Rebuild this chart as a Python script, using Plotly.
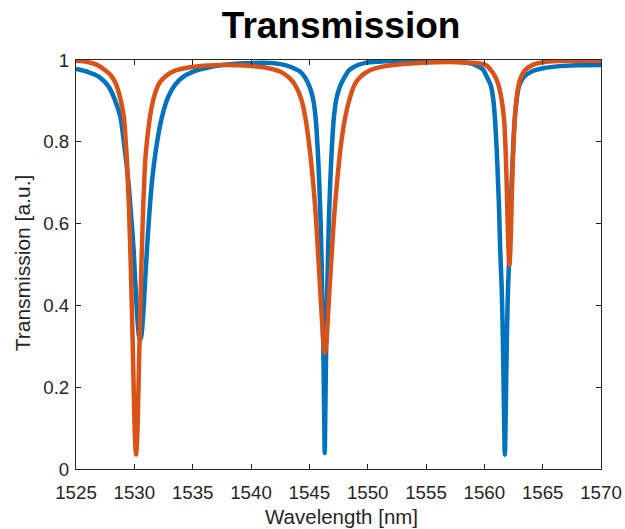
import plotly.graph_objects as go

# Blue curve (wavelength nm, transmission)
blue_wl = [1525.0, 1526.0, 1527.0, 1527.8, 1528.3, 1528.8, 1529.1, 1529.5, 1529.75, 1529.94,
           1530.05, 1530.2, 1530.3, 1530.4, 1530.5, 1530.6, 1530.7, 1530.8, 1530.95, 1531.08,
           1531.25, 1531.5, 1531.9, 1532.37, 1532.9, 1533.5, 1534.1, 1535.0, 1536.5, 1538.0,
           1539.5, 1541.0, 1542.0, 1543.0, 1543.5, 1544.2, 1544.62, 1545.02, 1545.32, 1545.53,
           1545.72, 1545.85, 1545.95, 1546.03, 1546.1, 1546.16, 1546.22, 1546.27, 1546.32, 1546.37,
           1546.42, 1546.48, 1546.54, 1546.61, 1546.69, 1546.79, 1546.92, 1547.11, 1547.32, 1547.62,
           1548.02, 1548.42, 1549.1, 1549.8, 1551.0, 1553.0, 1555.0, 1557.0, 1558.5, 1559.3,
           1559.9, 1560.16, 1560.56, 1560.76, 1560.9, 1561.06, 1561.18, 1561.28, 1561.36, 1561.48,
           1561.56, 1561.64, 1561.70, 1561.76, 1561.82, 1561.88, 1561.96, 1562.04, 1562.16, 1562.24,
           1562.34, 1562.46, 1562.62, 1562.76, 1562.96, 1563.36, 1564.06, 1565.06, 1566.5, 1568.0,
           1570.0]
blue_t = [0.978, 0.971, 0.958, 0.935, 0.905, 0.861, 0.80, 0.699, 0.61, 0.536,
          0.473, 0.396, 0.354, 0.325, 0.316, 0.325, 0.354, 0.396, 0.473, 0.536,
          0.61, 0.699, 0.79, 0.861, 0.91, 0.94, 0.957, 0.971, 0.983, 0.989,
          0.992, 0.993, 0.992, 0.987, 0.982, 0.972, 0.958, 0.935, 0.905, 0.861,
          0.78, 0.699, 0.62, 0.536, 0.44, 0.36, 0.25, 0.14, 0.039, 0.14,
          0.25, 0.36, 0.44, 0.536, 0.62, 0.699, 0.78, 0.861, 0.905, 0.935,
          0.958, 0.975, 0.987, 0.993, 0.996, 0.998, 0.998, 0.997, 0.993, 0.987,
          0.976, 0.962, 0.937, 0.905, 0.861, 0.78, 0.699, 0.62, 0.536, 0.45,
          0.36, 0.23, 0.11, 0.035, 0.11, 0.23, 0.36, 0.45, 0.536, 0.62,
          0.699, 0.78, 0.861, 0.90, 0.935, 0.958, 0.972, 0.980, 0.985, 0.987,
          0.988]

# Orange curve (wavelength nm, transmission)
red_wl = [1525.0, 1526.0, 1526.8, 1527.5, 1528.0, 1528.4, 1528.85, 1529.1, 1529.35, 1529.55,
          1529.7, 1529.85, 1529.95, 1530.05, 1530.15, 1530.25, 1530.35, 1530.45, 1530.6, 1530.75,
          1530.95, 1531.2, 1531.45, 1531.85, 1532.2, 1532.8, 1533.5, 1534.5, 1536.0, 1537.5,
          1539.0, 1540.5, 1541.5, 1542.5, 1543.3, 1543.8, 1544.3, 1544.65, 1545.0, 1545.33,
          1545.55, 1545.73, 1545.93, 1546.08, 1546.2, 1546.33, 1546.46, 1546.58, 1546.73, 1546.94,
          1547.13, 1547.37, 1547.7, 1548.08, 1548.5, 1548.94, 1549.5, 1550.2, 1551.5, 1553.0,
          1555.0, 1557.0, 1558.5, 1559.5, 1560.2, 1560.7, 1561.0, 1561.25, 1561.5, 1561.7,
          1561.85, 1561.95, 1562.05, 1562.15, 1562.25, 1562.35, 1562.45, 1562.6, 1562.8, 1563.05,
          1563.45, 1564.15, 1565.2, 1567.0, 1570.0]
red_t = [0.998, 0.995, 0.988, 0.975, 0.962, 0.943, 0.90, 0.861, 0.76, 0.63,
         0.49, 0.32, 0.19, 0.08, 0.035, 0.08, 0.19, 0.32, 0.49, 0.63,
         0.76, 0.83, 0.88, 0.925, 0.946, 0.963, 0.974, 0.981, 0.986, 0.988,
         0.987, 0.984, 0.980, 0.972, 0.956, 0.938, 0.905, 0.861, 0.79, 0.699,
         0.62, 0.536, 0.44, 0.365, 0.31, 0.283, 0.31, 0.365, 0.44, 0.536,
         0.62, 0.699, 0.79, 0.861, 0.91, 0.943, 0.962, 0.975, 0.985, 0.990,
         0.994, 0.995, 0.994, 0.992, 0.986, 0.97, 0.955, 0.935, 0.90, 0.851,
         0.757, 0.659, 0.551, 0.498, 0.551, 0.659, 0.757, 0.851, 0.915, 0.951,
         0.974, 0.988, 0.995, 0.998, 0.998]

x_ticks = [1525, 1530, 1535, 1540, 1545, 1550, 1555, 1560, 1565, 1570]
y_ticks = [0, 0.2, 0.4, 0.6, 0.8, 1]

FONT = "Liberation Sans, Arial, Helvetica, sans-serif"
AX = "#262626"

fig = go.Figure()
fig.add_trace(go.Scatter(x=blue_wl, y=blue_t, mode="lines",
                         line=dict(color="#0072BD", width=4.5, shape="spline", smoothing=0.8),
                         showlegend=False, hoverinfo="skip"))
fig.add_trace(go.Scatter(x=red_wl, y=red_t, mode="lines",
                         line=dict(color="#D95319", width=4.5, shape="spline", smoothing=0.8),
                         showlegend=False, hoverinfo="skip"))

axis_common = dict(showline=True, linecolor=AX, linewidth=1, mirror="ticks",
                   ticks="inside", ticklen=5, tickwidth=1, tickcolor=AX,
                   showgrid=False, zeroline=False, automargin=False,
                   tickfont=dict(family=FONT, size=18.7, color=AX))

fig.update_xaxes(range=[1525, 1570], tickvals=x_ticks, ticklabelstandoff=7, **axis_common)
fig.update_yaxes(range=[0, 1], tickvals=y_ticks, ticklabelstandoff=2, **axis_common)

fig.update_layout(
    template="none",
    width=625, height=529,
    margin=dict(l=76, r=24, t=60, b=60, pad=0),
    paper_bgcolor="white", plot_bgcolor="white",
    title=dict(text="<b>Transmission</b>", x=0.505, xref="paper", xanchor="center",
               y=1 - 25 / 529, yref="container", yanchor="middle",
               font=dict(family=FONT, size=37, color="black")),
    annotations=[
        dict(text="Wavelength [nm]", xref="paper", yref="paper", x=0.505, y=-0.115,
             xanchor="center", yanchor="middle", showarrow=False,
             font=dict(family=FONT, size=20.5, color=AX)),
        dict(text="Transmission [a.u.]", xref="paper", yref="paper", x=-0.102, y=0.504,
             xanchor="center", yanchor="middle", showarrow=False, textangle=-90,
             font=dict(family=FONT, size=21, color=AX)),
    ],
)

fig.write_html("out.html", config={"displayModeBar": False},
               post_script="document.body.style.margin='0';")
